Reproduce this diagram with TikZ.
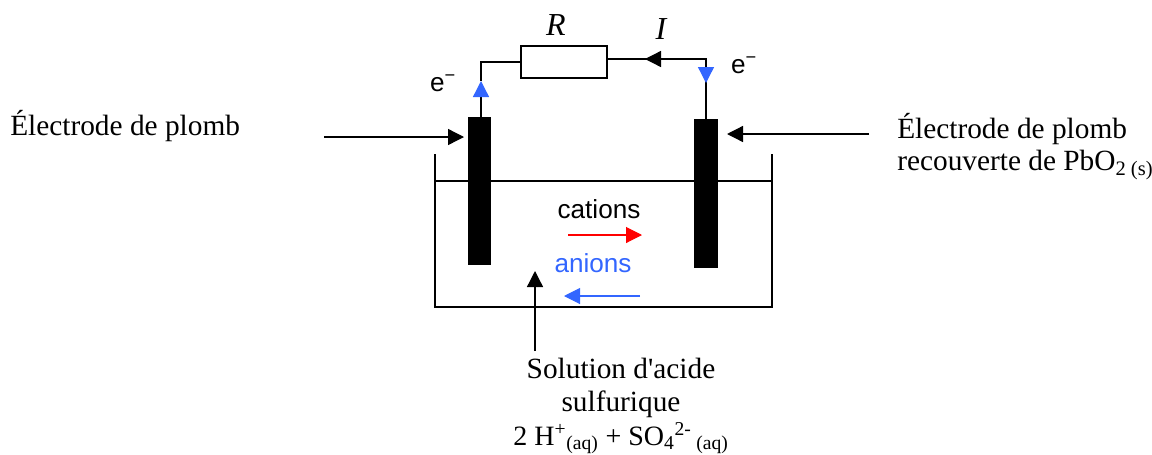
\documentclass[tikz,border=0pt]{standalone}
\usepackage{fontspec}
\setmainfont{Liberation Serif}
\setsansfont{Liberation Sans}
\usetikzlibrary{arrows.meta}
\definecolor{ionblue}{RGB}{51,102,255}
\tikzset{line/.style={draw,line width=1pt},
         pointer/.style={line,-{Triangle[length=12pt,width=12pt]}},
         bluetip/.style={line,-{Triangle[length=12pt,width=12pt,color=ionblue]}},
         electrode/.style={fill=black,draw=none,minimum width=17.5pt,inner sep=0pt,anchor=north},
         serif/.style={font=\fontsize{22}{24}\selectfont,inner sep=0pt},
         sans/.style={font=\sffamily\fontsize{19.6}{22}\selectfont,inner sep=0pt}
         }
\begin{document}
\begin{tikzpicture}[x=0.75pt,y=-0.75pt]
\useasboundingbox (0,0) rectangle (1152,454);
% tank
\draw[line] (435,154) -- (435,307) -- (772,307) -- (772,154);
\draw[line] (435,181) -- (772,181);
% electrodes and resistor
\node[electrode,minimum height=111pt] (plomb) at (479.5,117) {};
\node[electrode,minimum height=111.5pt] (oxyde) at (706,119) {};
\node[line,fill=white,minimum width=64.5pt,minimum height=24pt,inner sep=0pt] (res) at (564,62) {};
% circuit
\coordinate (cornerl) at (481,62);
\coordinate (cornerr) at (706,59);
\coordinate (tipl) at (481,81);
\coordinate (tipr) at (706,83);
\coordinate (tipi) at (645,59);
\draw[line] (tipl) -- (cornerl) -- (res.west);
\draw[bluetip] (plomb.north -| cornerl) -- (tipl);
\draw[line] (oxyde.north) -- (cornerr) -- (res.east |- cornerr);
\draw[bluetip] (cornerr) -- (tipr);
\draw[pointer] (cornerr) -- (tipi);
% labels
\node[serif,font=\itshape\fontsize{24}{24}\selectfont] (lR) at (556,25) {R};
\node[serif,font=\itshape\fontsize{24}{24}\selectfont] (lI) at (661,29) {I};
\node[sans] (el) at (443,83) {e\textsuperscript{−}};
\node[sans] (er) at (744,65) {e\textsuperscript{−}};
\node[serif,anchor=west] (lplomb) at (10,126) {Électrode de plomb};
\node[serif,anchor=north west,align=left] (loxyde) at (897,113) {Électrode de plomb\\recouverte de PbO\textsubscript{2 (s)}};
\node[serif,font=\fontsize{22}{25}\selectfont,align=center,anchor=north] (lacide) at (621,358) {Solution d\textquotesingle acide\\sulfurique\\\fontsize{21}{25}\selectfont 2 H\textsuperscript{+}\textsubscript{(aq)} + SO\textsubscript{4}\textsuperscript{2-}\textsubscript{ (aq)}};
\node[sans] (lcat) at (599,209) {cations};
\node[sans,text=ionblue] (lan) at (593,263) {anions};
% pointers
\coordinate (fromplomb) at (324,137);
\coordinate (fromoxyde) at (869,134);
\coordinate (fromacide) at (535,351);
\coordinate (toacide) at (535,271);
\coordinate (toplomb) at (464,137);
\coordinate (tooxyde) at (727,134);
\draw[pointer] (fromplomb) -- (toplomb);
\draw[pointer] (fromoxyde) -- (tooxyde);
\draw[pointer] (fromacide) -- (toacide);
% ions
\coordinate (cat1) at (568,235);
\coordinate (cat2) at (642,235);
\coordinate (an1) at (640,296);
\coordinate (an2) at (564,296);
\draw[pointer,red,line width=0.8pt] (cat1) -- (cat2);
\draw[pointer,ionblue,line width=0.8pt] (an1) -- (an2);
\end{tikzpicture}
\end{document}
